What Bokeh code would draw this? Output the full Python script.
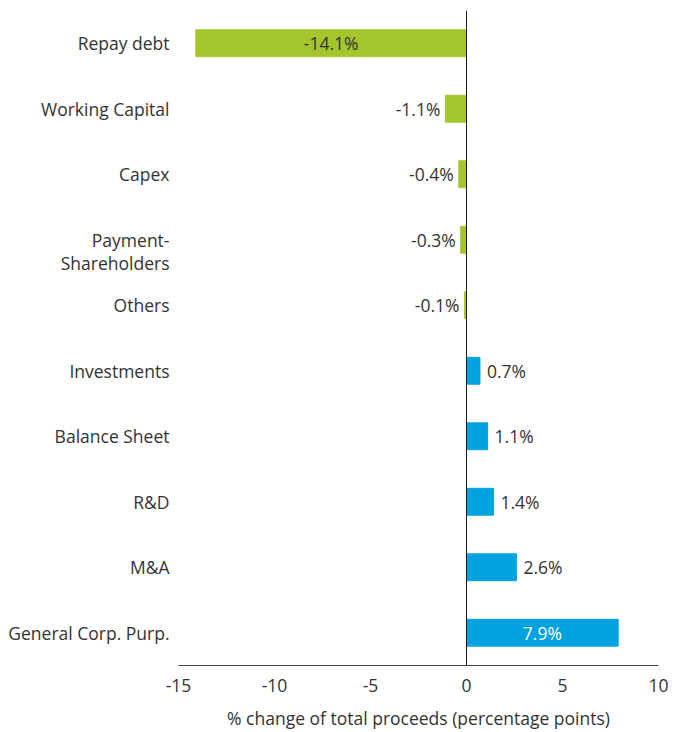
from bokeh.plotting import figure
from bokeh.models import ColumnDataSource, FixedTicker, Span, LabelSet
from bokeh.core.properties import value
from bokeh.embed import file_html
from bokeh.resources import INLINE

categories = ["Repay debt", "Working Capital", "Capex", "Payment-\nShareholders", "Others",
              "Investments", "Balance Sheet", "R&D", "M&A", "General Corp. Purp."]
values = [-14.1, -1.1, -0.4, -0.3, -0.1, 0.7, 1.1, 1.4, 2.6, 7.9]
x_ticks = [-15, -10, -5, 0, 5, 10]
X_MIN, X_MAX = -15, 10

GREEN = "#A5C52C"
BLUE = "#00A3DD"
TXT = "#333333"
FONT = "Open Sans"
FS = "17.5px"

# two-line labels: first line sits level with the bar, as in the original
factors = [("\u00a0\n" + c) if "\n" in c else c for c in categories]

colors = [GREEN if v < 0 else BLUE for v in values]
labels = [f"{v:.1f}%" for v in values]

big = [abs(v) > 5 for v in values]

src = ColumnDataSource(dict(cat=factors, val=values, color=colors))

out_neg = ColumnDataSource(dict(
    cat=[c for c, v, b in zip(factors, values, big) if v < 0 and not b],
    x=[v for v, b in zip(values, big) if v < 0 and not b],
    t=[l for l, v, b in zip(labels, values, big) if v < 0 and not b]))
out_pos = ColumnDataSource(dict(
    cat=[c for c, v, b in zip(factors, values, big) if v >= 0 and not b],
    x=[v for v, b in zip(values, big) if v >= 0 and not b],
    t=[l for l, v, b in zip(labels, values, big) if v >= 0 and not b]))
ins = ColumnDataSource(dict(
    cat=[c for c, b in zip(factors, big) if b],
    x=[v / 2 for v, b in zip(values, big) if b],
    t=[l for l, b in zip(labels, big) if b],
    tc=[TXT if v < 0 else "white" for v, b in zip(values, big) if b]))

p = figure(y_range=list(reversed(factors)), x_range=(X_MIN, X_MAX),
           width=680, height=732, output_backend="svg", toolbar_location=None,
           min_border_left=178, min_border_right=22, min_border_top=10, min_border_bottom=59)

p.hbar(y="cat", right="val", left=0, height=0.41, color="color", source=src)

p.add_layout(Span(location=0, dimension="height", line_color="#1a1a1a", line_width=1))

common = dict(y="cat", text="t", text_font=value(FONT), text_font_size=value(FS),
              text_baseline="middle")
p.add_layout(LabelSet(x="x", source=out_neg, text_align="right", x_offset=-5,
                      text_color=TXT, **common))
p.add_layout(LabelSet(x="x", source=out_pos, text_align="left", x_offset=7,
                      text_color=TXT, **common))
p.add_layout(LabelSet(x="x", source=ins, text_align="center",
                      text_color="tc", **common))

p.grid.visible = False
p.outline_line_color = None
p.background_fill_color = "white"
p.border_fill_color = "white"

xa = p.xaxis[0]
xa.ticker = FixedTicker(ticks=x_ticks)
xa.major_label_overrides = {t: str(t) for t in x_ticks}
xa.major_tick_line_color = None
xa.minor_tick_line_color = None
xa.axis_line_color = "#444444"
xa.major_label_text_font = FONT
xa.major_label_text_font_size = FS
xa.major_label_text_color = TXT
xa.major_label_standoff = 7
xa.axis_label = "% change of total proceeds (percentage points)"
xa.axis_label_text_font = FONT
xa.axis_label_text_font_size = FS
xa.axis_label_text_font_style = "normal"
xa.axis_label_text_color = TXT
xa.axis_label_standoff = 11

ya = p.yaxis[0]
ya.axis_line_color = None
ya.major_tick_line_color = None
ya.minor_tick_line_color = None
ya.major_label_text_font = FONT
ya.major_label_text_font_size = FS
ya.major_label_text_color = TXT
ya.major_label_text_line_height = 0.95
ya.major_label_standoff = 3

open("out.html", "w").write(file_html(p, INLINE))
